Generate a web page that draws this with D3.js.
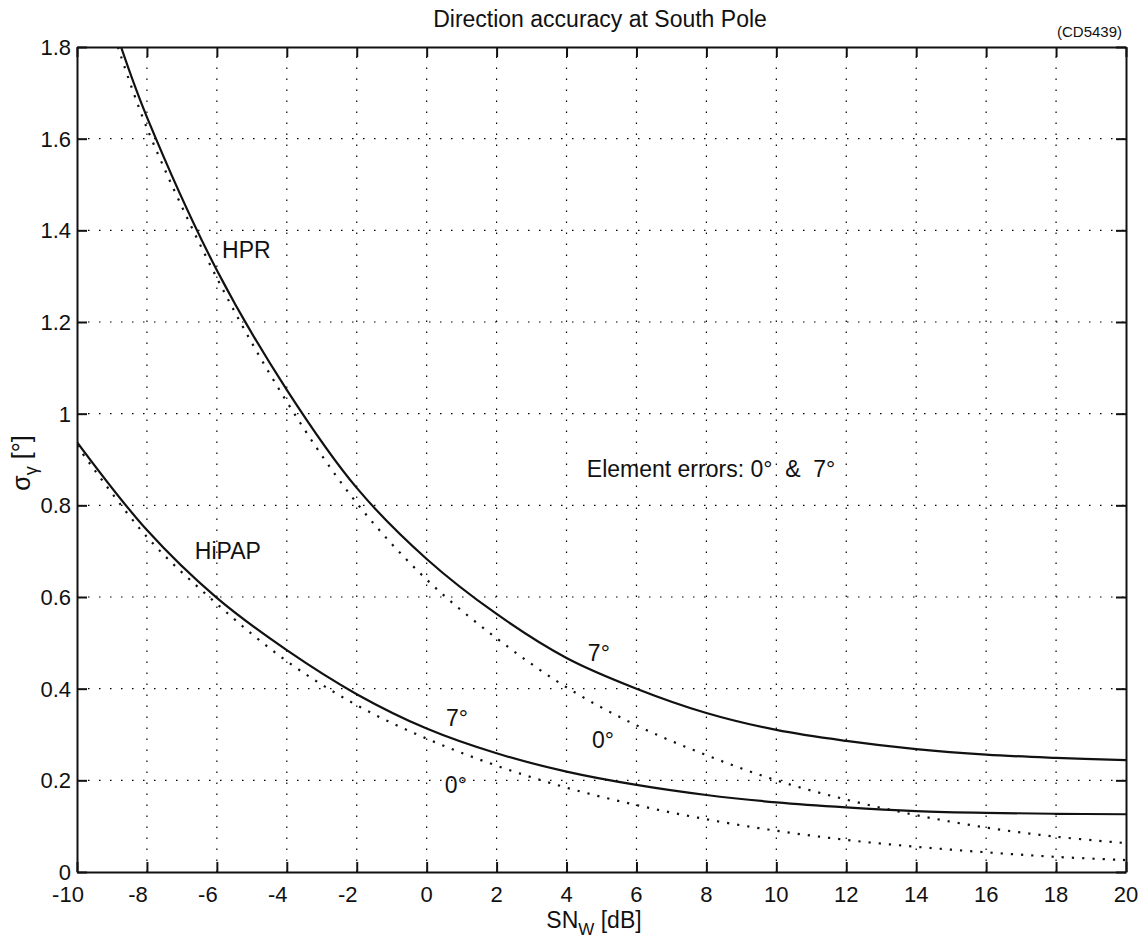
<!DOCTYPE html>
<html>
<head>
<meta charset="utf-8">
<script src="https://cdn.jsdelivr.net/npm/d3@7"></script>
<style>
  html, body { margin: 0; padding: 0; background: #fff; }
  text { font-family: "Liberation Sans", Arial, sans-serif; fill: #111; white-space: pre; }
</style>
</head>
<body>
<svg id="chart" width="1145" height="941"></svg>
<script>
// ---- data ----
const xTicks = [-10, -8, -6, -4, -2, 0, 2, 4, 6, 8, 10, 12, 14, 16, 18, 20];
const yTicks = [0, 0.2, 0.4, 0.6, 0.8, 1, 1.2, 1.4, 1.6, 1.8];
const yTickLabels = ["0", "0.2", "0.4", "0.6", "0.8", "1", "1.2", "1.4", "1.6", "1.8"];

const hprSN7 = [-8.74, -8, -6, -4, -2, 0, 2, 4, 6, 8, 10, 12, 14, 16, 18, 20];
const hpr7   = [1.8, 1.647, 1.313, 1.052, 0.838, 0.683, 0.563, 0.467, 0.400, 0.347, 0.310, 0.286, 0.268, 0.256, 0.249, 0.244];
const hprSN0 = [-8.83, -8, -6, -4, -2, 0, 2, 4, 6, 8, 10, 12, 14, 16, 18, 20];
const hpr0   = [1.8, 1.623, 1.296, 1.026, 0.805, 0.638, 0.510, 0.403, 0.320, 0.255, 0.200, 0.158, 0.124, 0.097, 0.077, 0.063];

const hipapSN = [-10, -8, -6, -4, -2, 0, 2, 4, 6, 8, 10, 12, 14, 16, 18, 20];
const hipap7  = [0.938, 0.746, 0.598, 0.484, 0.388, 0.313, 0.259, 0.219, 0.190, 0.168, 0.152, 0.141, 0.133, 0.129, 0.127, 0.126];
const hipap0  = [0.930, 0.731, 0.585, 0.460, 0.364, 0.291, 0.232, 0.184, 0.146, 0.115, 0.090, 0.070, 0.055, 0.043, 0.033, 0.026];

const annotations = [
  { text: "HPR", x: -5.85, y: 1.34 },
  { text: "HiPAP", x: -6.63, y: 0.683 },
  { text: "7°", x: 4.61, y: 0.46 },
  { text: "0°", x: 4.73, y: 0.2706 },
  { text: "7°", x: 0.55, y: 0.3186 },
  { text: "0°", x: 0.52, y: 0.172 },
  { text: "Element errors: 0°  &  7°", x: 4.58, y: 0.862 }
];

const titleText = "Direction accuracy at South Pole";
const tagText = "(CD5439)";

// ---- layout ----
const svg = d3.select("#chart");
const L = 77, R = 1126, T = 47, B = 872;
const x = d3.scaleLinear().domain([-10, 20]).range([L, R]);
const y = d3.scaleLinear().domain([0, 1.8]).range([B, T]);

svg.append("defs").append("clipPath").attr("id", "clip")
  .append("rect").attr("x", L).attr("y", T).attr("width", R - L).attr("height", B - T);

// grid
const grid = svg.append("g");
grid.selectAll(".vg").data(xTicks.slice(1, -1)).enter().append("line")
  .attr("x1", d => x(d)).attr("x2", d => x(d)).attr("y1", B).attr("y2", T)
  .attr("stroke", "#000").attr("stroke-width", 1.2).attr("stroke-dasharray", "1.5,9.5");
grid.selectAll(".hg").data(yTicks.slice(1, -1)).enter().append("line")
  .attr("y1", d => y(d)).attr("y2", d => y(d)).attr("x1", L).attr("x2", R)
  .attr("stroke", "#000").attr("stroke-width", 1.2).attr("stroke-dasharray", "1.5,9.5");

// curves
const line = d3.line().x(d => x(d[0])).y(d => y(d[1])).curve(d3.curveCatmullRom.alpha(0.5));
const curves = svg.append("g").attr("clip-path", "url(#clip)");
function addCurve(xs, ys, dotted) {
  const pts = xs.map((v, i) => [v, ys[i]]);
  curves.append("path").datum(pts).attr("d", line)
    .attr("fill", "none").attr("stroke", "#111")
    .attr("stroke-width", 2.2)
    .attr("stroke-dasharray", dotted ? "2.2,8" : null);
}
addCurve(hprSN7, hpr7, false);
addCurve(hprSN0, hpr0, true);
addCurve(hipapSN, hipap7, false);
addCurve(hipapSN, hipap0, true);

// axes: box and inward ticks
const axG = svg.append("g");
const axBottom = d3.axisBottom(x).tickValues(xTicks).tickSizeInner(-10).tickSizeOuter(0).tickFormat("");
const axTop = d3.axisTop(x).tickValues(xTicks).tickSizeInner(-10).tickSizeOuter(0).tickFormat("");
const axLeft = d3.axisLeft(y).tickValues(yTicks).tickSizeInner(-10).tickSizeOuter(0).tickFormat("");
const axRight = d3.axisRight(y).tickValues(yTicks).tickSizeInner(-10).tickSizeOuter(0).tickFormat("");
axG.append("g").attr("transform", `translate(0,${B})`).call(axBottom);
axG.append("g").attr("transform", `translate(0,${T})`).call(axTop);
axG.append("g").attr("transform", `translate(${L},0)`).call(axLeft);
axG.append("g").attr("transform", `translate(${R},0)`).call(axRight);
axG.selectAll("path.domain").attr("stroke", "#111").attr("stroke-width", 2);
axG.selectAll(".tick line").attr("stroke", "#111").attr("stroke-width", 2);

// tick labels
svg.append("g").selectAll("text").data(xTicks).enter().append("text")
  .attr("x", d => x(d) + (d < 0 ? -9 : 0)).attr("y", 902)
  .attr("text-anchor", "middle").attr("font-size", 22)
  .text(d => String(d));
svg.append("g").selectAll("text").data(yTicks).enter().append("text")
  .attr("x", L - 6).attr("y", d => y(d) + 8)
  .attr("text-anchor", "end").attr("font-size", 22)
  .text((d, i) => yTickLabels[i]);

// annotations
svg.append("g").selectAll("text").data(annotations).enter().append("text")
  .attr("x", d => x(d.x)).attr("y", d => y(d.y))
  .attr("font-size", 23).text(d => d.text);

// title and tag
svg.append("text").attr("x", 600).attr("y", 27).attr("text-anchor", "middle")
  .attr("font-size", 23).text(titleText);
svg.append("text").attr("x", 1122).attr("y", 37).attr("text-anchor", "end")
  .attr("font-size", 15).text(tagText);

// x label
const xl = svg.append("text").attr("x", 594).attr("y", 928).attr("text-anchor", "middle").attr("font-size", 23);
xl.append("tspan").text("SN");
xl.append("tspan").attr("dy", 7).attr("font-size", 17).text("W");
xl.append("tspan").attr("dy", -7).text(" [dB]");

// y label
const yl = svg.append("text").attr("transform", `translate(30,463) rotate(-90)`).attr("text-anchor", "middle").attr("font-size", 25);
yl.append("tspan").text("σ");
yl.append("tspan").attr("dy", 7).attr("font-size", 18).text("γ");
yl.append("tspan").attr("dy", -7).text(" [°]");
</script>
</body>
</html>
